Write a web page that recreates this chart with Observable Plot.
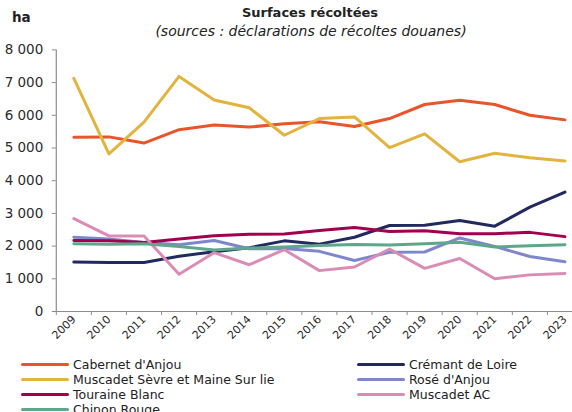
<!DOCTYPE html>
<html>
<head>
<meta charset="utf-8">
<script src="https://cdn.jsdelivr.net/npm/d3@7"></script>
<script src="https://cdn.jsdelivr.net/npm/@observablehq/plot@0.6"></script>
<style>
  html, body { margin: 0; padding: 0; background: #fff; }
  #wrap { position: relative; width: 572px; height: 412px; overflow: hidden; font-family: "DejaVu Sans", sans-serif; color: #222; }
  #unit { position: absolute; left: 12px; top: 9px; font-weight: bold; font-size: 13.5px; }
  #title { position: absolute; left: 0; width: 620px; top: 5px; text-align: center; font-weight: bold; font-size: 13px; }
  #subtitle { position: absolute; left: 0; width: 622px; top: 23px; text-align: center; font-style: italic; font-size: 14px; }
  #chart { position: absolute; left: 0; top: 40px; }
  .leg { position: absolute; font-size: 12.5px; display: flex; align-items: center; white-space: nowrap; }
  .leg span.sw { display: inline-block; width: 48px; height: 3px; border-radius: 2px; margin-right: 4px; }
</style>
</head>
<body>
<div id="wrap">
  <div id="unit">ha</div>
  <div id="title">Surfaces récoltées</div>
  <div id="subtitle">(sources : déclarations de récoltes douanes)</div>
  <div id="chart"></div>
  <div id="legend"></div>
</div>
<script>
const years = [2009, 2010, 2011, 2012, 2013, 2014, 2015, 2016, 2017, 2018, 2019, 2020, 2021, 2022, 2023];
const seriesNames = ["Cabernet d'Anjou", "Crémant de Loire", "Muscadet Sèvre et Maine Sur lie", "Rosé d'Anjou", "Touraine Blanc", "Muscadet AC", "Chinon Rouge"];
const seriesColors = ["#E8542B", "#22295E", "#E2B43E", "#7E87CC", "#A1004F", "#D98DB6", "#5EA78A"];
const cabernetAnjou = [5330, 5340, 5150, 5560, 5700, 5640, 5740, 5800, 5660, 5900, 6330, 6460, 6330, 6000, 5860];
const cremantLoire = [1510, 1500, 1500, 1690, 1830, 1950, 2160, 2060, 2270, 2630, 2640, 2780, 2610, 3190, 3650];
const muscadetSML = [7130, 4820, 5790, 7190, 6470, 6230, 5390, 5900, 5950, 5010, 5430, 4580, 4840, 4700, 4600];
const roseAnjou = [2270, 2220, 2110, 2040, 2170, 1920, 1930, 1840, 1560, 1810, 1820, 2250, 1990, 1680, 1520];
const touraineBlanc = [2170, 2160, 2110, 2220, 2320, 2360, 2370, 2480, 2570, 2450, 2470, 2380, 2380, 2420, 2290];
const muscadetAC = [2840, 2310, 2310, 1140, 1800, 1430, 1890, 1250, 1360, 1910, 1320, 1620, 1000, 1120, 1160];
const chinonRouge = [2070, 2060, 2070, 1990, 1880, 1940, 1970, 2020, 2050, 2030, 2070, 2120, 1970, 2010, 2040];
const yTicks = [0, 1000, 2000, 3000, 4000, 5000, 6000, 7000, 8000];

const seriesValues = [cabernetAnjou, cremantLoire, muscadetSML, roseAnjou, touraineBlanc, muscadetAC, chinonRouge];
const data = [];
seriesNames.forEach((name, i) => {
  years.forEach((yr, j) => data.push({series: name, year: yr, value: seriesValues[i][j]}));
});

const fmt = d => d3.format(",")(d).replace(/,/g, " ");
const axisGray = "#8c8c8c";
const textColor = "#2b2b2b";

const chart = Plot.plot({
  width: 572,
  height: 322,
  marginTop: 9.4,
  marginBottom: 51,
  marginLeft: 55.8,
  marginRight: 0,
  style: {fontFamily: "DejaVu Sans, sans-serif", overflow: "visible", background: "transparent"},
  x: {type: "linear", domain: [2008.5, 2023.5], range: [55.8, 582]},
  y: {domain: [0, 8000]},
  color: {domain: seriesNames, range: seriesColors},
  marks: [
    Plot.ruleX([2008.5], {stroke: axisGray, strokeWidth: 1.2}),
    Plot.ruleY([0], {stroke: axisGray, strokeWidth: 1.2, x1: 2008.4, x2: 2023.5}),
    Plot.axisY({ticks: yTicks, tickFormat: fmt, tickSize: 4, tickPadding: 9, fontSize: 13.5, stroke: axisGray, fill: textColor, label: null}),
    Plot.axisX({ticks: d3.range(2008.5, 2024, 1), tickFormat: () => "", tickSize: 4, stroke: axisGray, label: null}),
    Plot.axisX({ticks: years, tickFormat: d => String(d), tickSize: 0, tickPadding: 6, tickRotate: -45, fontSize: 11, fill: textColor, label: null}),
    Plot.line(data, {x: "year", y: "value", z: "series", stroke: "series", strokeWidth: 3, strokeLinejoin: "round", strokeLinecap: "round"})
  ]
});
document.getElementById("chart").appendChild(chart);

// legend (two columns, row-major order)
const legend = document.getElementById("legend");
seriesNames.forEach((name, i) => {
  const col = i % 2, row = Math.floor(i / 2);
  const d = document.createElement("div");
  d.className = "leg";
  d.style.left = (col === 0 ? 21 : 357) + "px";
  d.style.top = (357 + row * 15) + "px";
  const sw = document.createElement("span");
  sw.className = "sw";
  sw.style.background = seriesColors[i];
  d.appendChild(sw);
  d.appendChild(document.createTextNode(name));
  legend.appendChild(d);
});
</script>
</body>
</html>
